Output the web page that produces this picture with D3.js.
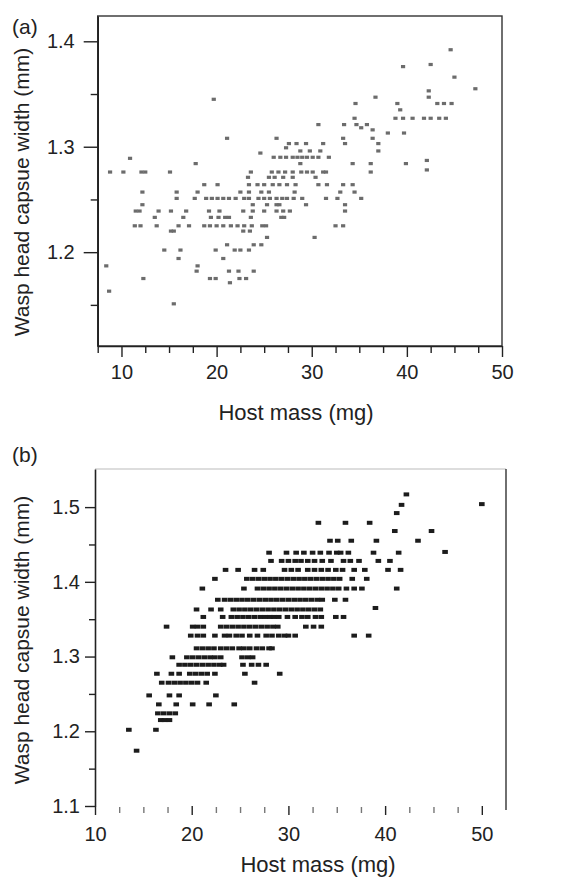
<!DOCTYPE html>
<html>
<head>
<meta charset="utf-8">
<script src="https://cdn.jsdelivr.net/npm/d3@7"></script>
<style>
  body { margin: 0; background: #fff; }
  svg { display: block; }
  text { font-family: "Liberation Sans", Arial, sans-serif; fill: #222; }
</style>
</head>
<body>
<svg id="chart" width="576" height="877"></svg>
<script>
// Panel (a): rows of [head capsule width, [host masses]]
const rowsA = [
  [1.392, [44.6]],
  [1.378, [42.5]],
  [1.376, [39.6]],
  [1.366, [45.0]],
  [1.355, [47.2]],
  [1.353, [42.3]],
  [1.347, [36.7, 42.3]],
  [1.345, [19.7]],
  [1.341, [34.6, 39.0, 43.2, 43.9, 44.7]],
  [1.335, [39.3]],
  [1.327, [34.5, 38.8, 39.6, 40.6, 41.8, 42.5, 43.4, 44.1]],
  [1.321, [30.7, 33.4, 34.7, 35.8]],
  [1.318, [35.2]],
  [1.316, [36.4]],
  [1.313, [38.0, 39.7]],
  [1.308, [21.1, 26.3, 33.3, 36.4]],
  [1.303, [27.6, 28.4, 29.4, 31.2, 33.5, 37.0]],
  [1.299, [27.3]],
  [1.296, [28.8, 29.8, 30.9, 37.0]],
  [1.294, [24.6]],
  [1.290, [26.0, 26.7, 27.3, 28.0, 28.5, 29.0, 29.5, 30.1, 30.7, 31.8]],
  [1.289, [10.9]],
  [1.287, [42.1]],
  [1.284, [17.8, 28.8, 34.3, 36.2, 39.9]],
  [1.278, [42.1]],
  [1.276, [8.8, 10.2, 12.1, 12.5, 15.1, 23.6, 25.8, 26.5, 27.2, 28.0, 28.9, 29.5, 30.1, 31.2, 31.5, 36.2]],
  [1.271, [23.3, 25.5, 26.1, 27.0, 28.0, 30.4]],
  [1.264, [18.7, 20.1, 23.4, 24.3, 25.0, 25.9, 26.6, 27.4, 28.3, 30.7, 31.6, 33.3, 34.3]],
  [1.257, [12.2, 15.8, 18.0, 22.5, 23.4, 24.7, 25.5, 28.2, 33.0, 34.5]],
  [1.251, [15.8, 17.7, 18.9, 19.5, 20.1, 20.7, 21.3, 22.0, 22.9, 23.4, 24.4, 25.0, 25.6, 26.3, 26.9, 27.4, 28.1, 29.0, 31.5, 32.7, 35.2]],
  [1.245, [12.2, 23.8, 25.3, 26.3, 26.6, 29.4, 33.5]],
  [1.239, [11.5, 11.9, 13.9, 15.2, 16.8, 19.2, 20.3, 22.8, 23.8, 25.0, 26.3, 27.0, 27.7, 33.5]],
  [1.233, [13.5, 16.5, 19.4, 20.2, 20.9, 21.3, 23.6, 26.8, 27.1]],
  [1.225, [11.4, 12.0, 13.7, 16.0, 17.1, 18.7, 19.3, 20.0, 20.7, 21.5, 22.2, 22.9, 23.7, 24.8, 25.2, 32.5, 33.3]],
  [1.220, [15.2, 15.5, 22.8, 23.5]],
  [1.214, [25.3, 30.3]],
  [1.207, [21.1, 23.9, 24.7]],
  [1.202, [14.5, 16.2, 19.9, 21.9, 22.5, 23.4]],
  [1.194, [16.0, 20.7]],
  [1.187, [8.4, 18.0]],
  [1.182, [17.9, 21.3, 22.3, 23.9]],
  [1.175, [12.3, 19.3, 19.9, 22.4, 23.1]],
  [1.171, [21.4]],
  [1.163, [8.7]],
  [1.151, [15.5]]
];

// Panel (b): rows of [head capsule width, [host masses]]
const rowsB = [
  [1.517, [42.2]],
  [1.504, [50.0]],
  [1.503, [41.7]],
  [1.492, [41.2]],
  [1.479, [33.1, 35.9, 38.4]],
  [1.468, [41.0, 44.8]],
  [1.455, [34.3, 35.1, 36.5, 39.1, 43.4]],
  [1.440, [46.2]],
  [1.439, [28.0, 29.8, 30.8, 31.6, 32.5, 33.3, 34.2, 35.0, 35.4, 36.2, 38.8, 41.4]],
  [1.428, [28.2, 29.3, 30.0, 30.7, 31.3, 32.0, 32.7, 33.5, 34.4, 35.7, 36.4, 37.3, 39.3, 40.5]],
  [1.416, [23.5, 24.8, 26.5, 27.4, 29.6, 30.3, 31.0, 32.0, 32.7, 33.4, 34.1, 34.9, 35.6, 36.8, 37.9, 40.3, 41.6]],
  [1.404, [22.4, 25.7, 26.3, 26.9, 27.5, 28.1, 28.7, 29.3, 29.9, 30.5, 31.1, 31.7, 32.3, 32.9, 33.5, 34.1, 34.7, 35.3, 36.6, 38.1]],
  [1.391, [21.1, 25.4, 26.8, 27.4, 28.0, 28.6, 29.2, 29.8, 30.4, 31.0, 31.6, 32.2, 32.8, 33.4, 34.0, 34.6, 35.2, 36.0, 36.8, 37.6, 41.2]],
  [1.376, [22.7, 23.4, 24.0, 24.6, 25.2, 25.8, 26.4, 27.0, 27.6, 28.2, 28.8, 29.4, 30.0, 30.6, 31.2, 31.8, 32.4, 33.0, 33.5, 34.8, 35.9]],
  [1.365, [39.0]],
  [1.363, [20.5, 22.0, 23.0, 24.3, 24.9, 25.5, 26.1, 26.7, 27.3, 27.9, 28.5, 29.1, 29.7, 30.3, 30.9, 31.5, 32.1, 32.7, 33.3]],
  [1.353, [21.2, 23.2, 24.1, 24.7, 25.3, 25.9, 26.5, 27.1, 27.6, 28.1, 28.5, 29.0, 29.9, 30.7, 31.4, 32.0, 32.8, 33.4, 34.9, 35.7]],
  [1.340, [17.4, 20.1, 20.6, 21.2, 23.0, 23.6, 24.2, 24.8, 25.4, 26.0, 26.6, 27.2, 27.8, 28.4, 28.9, 31.8, 32.6, 33.4]],
  [1.328, [19.9, 20.6, 21.2, 22.4, 23.4, 23.9, 24.6, 25.2, 26.0, 26.8, 27.7, 28.3, 29.0, 29.6, 30.0, 30.7, 36.8, 38.3]],
  [1.311, [20.5, 21.1, 21.7, 22.3, 23.0, 23.6, 24.2, 24.9, 25.4, 26.0, 26.7, 27.3, 28.0, 28.3]],
  [1.299, [18.0, 19.5, 20.1, 20.7, 21.3, 21.9, 22.4, 23.0, 25.2, 25.8, 26.3]],
  [1.289, [18.7, 19.3, 19.9, 20.5, 21.1, 21.7, 22.3, 22.9, 23.3, 25.3, 26.2, 26.9, 27.7]],
  [1.277, [16.4, 17.9, 18.7, 19.8, 20.4, 21.0, 21.6, 22.4, 25.5, 29.1]],
  [1.265, [16.9, 17.6, 18.2, 18.8, 19.4, 20.0, 20.6, 21.5, 26.5]],
  [1.248, [15.6, 17.7, 18.7, 22.5]],
  [1.236, [16.6, 18.4, 20.1, 21.8, 24.4]],
  [1.224, [16.5, 17.1, 17.7, 18.3]],
  [1.215, [16.8, 17.2, 17.7]],
  [1.202, [13.5, 16.3]],
  [1.174, [14.3]]
];

// Tick values
const xMajorA = [10, 20, 30, 40, 50];
const xMinorA = [7.5, 12.5, 15, 17.5, 22.5, 25, 27.5, 32.5, 35, 37.5, 42.5, 45, 47.5];
const yMajorA = [1.2, 1.3, 1.4];
const yMinorA = [1.15, 1.25, 1.35];
const xMajorB = [10, 20, 30, 40, 50];
const xMinorB = [12.5, 15, 17.5, 22.5, 25, 27.5, 32.5, 35, 37.5, 42.5, 45, 47.5];
const yMajorB = [1.1, 1.2, 1.3, 1.4, 1.5];
const yMinorB = [1.15, 1.25, 1.35, 1.45];

const svg = d3.select('#chart');
const fmt = d3.format('.1f');

// flatten rows into points
const toPoints = rows => rows.flatMap(([w, masses]) => masses.map(m => ({ x: m, y: w })));

function styleAxis(g, size) {
  g.selectAll('path.domain').attr('stroke', '#222').attr('stroke-width', 1.6);
  g.selectAll('.tick line').attr('stroke', '#222').attr('stroke-width', 1.4);
  g.selectAll('.tick text')
    .style('font-family', '"Liberation Sans", Arial, sans-serif')
    .style('font-size', size + 'px')
    .attr('fill', '#222');
}

// ---------- Panel (a) ----------
const xA = d3.scaleLinear().domain([7.5, 50]).range([97.7, 502]);
const yA = d3.scaleLinear().domain([1.111, 1.424]).range([346, 16]);

// frame
svg.append('rect')
  .attr('x', xA(7.5)).attr('y', yA(1.424))
  .attr('width', xA(50) - xA(7.5)).attr('height', yA(1.111) - yA(1.424))
  .attr('fill', 'none').attr('stroke', '#333').attr('stroke-width', 1.4);

svg.append('g')
  .attr('transform', `translate(0,${yA(1.111)})`)
  .call(d3.axisBottom(xA).tickValues(xMinorA).tickSize(7).tickFormat(''))
  .call(g => g.select('.domain').remove())
  .call(g => styleAxis(g, 20));

svg.append('g')
  .attr('transform', `translate(0,${yA(1.111)})`)
  .call(d3.axisBottom(xA).tickValues(xMajorA).tickSize(11).tickPadding(8).tickSizeOuter(0).tickFormat(d3.format('d')))
  .call(g => styleAxis(g, 20));

svg.append('g')
  .attr('transform', `translate(${xA(7.5)},0)`)
  .call(d3.axisLeft(yA).tickValues(yMinorA).tickSize(7).tickFormat(''))
  .call(g => g.select('.domain').remove())
  .call(g => styleAxis(g, 20));

svg.append('g')
  .attr('transform', `translate(${xA(7.5)},0)`)
  .call(d3.axisLeft(yA).tickValues(yMajorA).tickSize(14).tickPadding(9).tickSizeOuter(0).tickFormat(fmt))
  .call(g => styleAxis(g, 20));

svg.append('g')
  .selectAll('rect')
  .data(toPoints(rowsA))
  .enter().append('rect')
  .attr('x', d => xA(d.x) - 2.1)
  .attr('y', d => yA(d.y) - 1.6)
  .attr('width', 4.2)
  .attr('height', 3.2)
  .attr('fill', '#6c6c6c');

svg.append('text').text('(a)').attr('x', 12).attr('y', 34).style('font-size', '21px');
svg.append('text').text('Host mass (mg)')
  .attr('x', 296).attr('y', 420).attr('text-anchor', 'middle').style('font-size', '22px');
svg.append('text').text('Wasp head capsue width (mm)')
  .attr('transform', 'translate(29,192) rotate(-90)')
  .attr('text-anchor', 'middle').style('font-size', '21px');

// ---------- Panel (b) ----------
const xB = d3.scaleLinear().domain([10, 52.5]).range([95, 506]);
const yB = d3.scaleLinear().domain([1.1, 1.551]).range([806, 469]);

// faint top line and right border
svg.append('line')
  .attr('x1', xB(10)).attr('x2', xB(52.5)).attr('y1', yB(1.551)).attr('y2', yB(1.551))
  .attr('stroke', '#bbb').attr('stroke-width', 1);
svg.append('line')
  .attr('x1', xB(52.5)).attr('x2', xB(52.5)).attr('y1', yB(1.551)).attr('y2', yB(1.1) + 4)
  .attr('stroke', '#333').attr('stroke-width', 1.4);

// bottom ticks only, no baseline
svg.append('g')
  .attr('transform', `translate(0,${yB(1.1)})`)
  .call(d3.axisBottom(xB).tickValues(xMinorB).tickSize(6).tickFormat(''))
  .call(g => g.select('.domain').remove())
  .call(g => styleAxis(g, 20))
  .call(g => g.selectAll('.tick line').attr('stroke', '#777').attr('transform', 'translate(0,1)'));

svg.append('g')
  .attr('transform', `translate(0,${yB(1.1)})`)
  .call(d3.axisBottom(xB).tickValues(xMajorB).tickSize(9).tickPadding(12).tickFormat(d3.format('d')))
  .call(g => g.select('.domain').remove())
  .call(g => styleAxis(g, 20));

svg.append('g')
  .attr('transform', `translate(${xB(10)},0)`)
  .call(d3.axisLeft(yB).tickValues(yMinorB).tickSize(6).tickFormat(''))
  .call(g => g.select('.domain').remove())
  .call(g => styleAxis(g, 20));

svg.append('g')
  .attr('transform', `translate(${xB(10)},0)`)
  .call(d3.axisLeft(yB).tickValues(yMajorB).tickSize(10).tickPadding(5).tickSizeOuter(0).tickFormat(fmt))
  .call(g => styleAxis(g, 20));

svg.append('g')
  .selectAll('rect')
  .data(toPoints(rowsB))
  .enter().append('rect')
  .attr('x', d => xB(d.x) - 2.8)
  .attr('y', d => yB(d.y) - 2)
  .attr('width', 5.6)
  .attr('height', 4)
  .attr('fill', '#1c1c1c');

svg.append('text').text('(b)').attr('x', 12).attr('y', 462).style('font-size', '21px');
svg.append('text').text('Host mass (mg)')
  .attr('x', 318).attr('y', 872).attr('text-anchor', 'middle').style('font-size', '22px');
svg.append('text').text('Wasp head capsue width (mm)')
  .attr('transform', 'translate(29,640) rotate(-90)')
  .attr('text-anchor', 'middle').style('font-size', '21px');
</script>
</body>
</html>
